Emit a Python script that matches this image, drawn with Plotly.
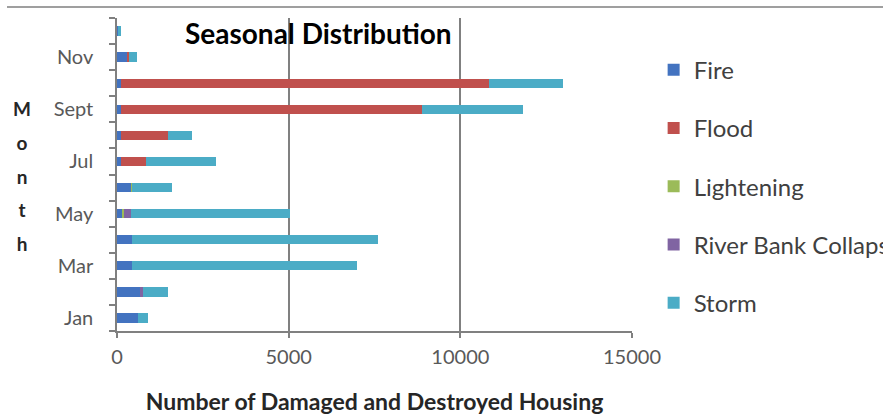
import plotly.graph_objects as go

months = ["Jan", "Feb", "Mar", "Apr", "May", "Jun", "Jul", "Aug", "Sept", "Oct", "Nov", "Dec"]
tick_text = ["Jan", "", "Mar", "", "May", "", "Jul", "", "Sept", "", "Nov", ""]

fire =       [620, 670, 450, 450, 135, 410, 130, 130, 130, 130, 280, 40]
flood =      [0,   0,   0,   0,   0,   0,   705, 1365, 8750, 10710, 70, 0]
lightening = [0,   0,   0,   0,   60,  30,  0,   0,   0,   0,   0,   0]
river_bank = [0,   100, 0,   0,   215, 0,   0,   0,   0,   0,   0,   0]
storm =      [275, 725, 6550, 7140, 4640, 1150, 2055, 700, 2940, 2160, 225, 90]

series = [
    ("Fire", fire, "#4373C0"),
    ("Flood", flood, "#C0504D"),
    ("Lightening", lightening, "#9BBB59"),
    ("River Bank Collapse", river_bank, "#8064A2"),
    ("Storm", storm, "#4BACC6"),
]

fig = go.Figure()
for i, (name, vals, col) in enumerate(series):
    fig.add_trace(go.Bar(
        y=months, x=vals, name=name, orientation="h",
        marker=dict(color=col, line=dict(width=0)),
        legendgroup=f"g{i}",
    ))

font_fam = "Lato, Open Sans, sans-serif"
month_title = "<br>".join(f"<span style='font-size:19px'>{c}</span>" for c in "Month")

fig.update_layout(
    barmode="stack",
    bargap=0.64,
    width=883, height=416,
    margin=dict(l=117, r=251, t=18, b=85, autoexpand=False),
    plot_bgcolor="white", paper_bgcolor="white",
    font=dict(family=font_fam, size=20, color="#595959"),
    showlegend=True,
    legend=dict(
        x=1.042, xanchor="left", y=0.905, yanchor="top",
        font=dict(size=24, color="#404040", family=font_fam),
        tracegroupgap=24, itemwidth=30,
        bgcolor="rgba(0,0,0,0)",
    ),
    xaxis=dict(
        range=[0, 15000], tickvals=[0, 5000, 10000, 15000], tickformat="d",
        showgrid=True, gridcolor="#808080", gridwidth=1.5,
        showline=True, linecolor="#808080", linewidth=1.5,
        ticks="outside", ticklen=5, tickcolor="#808080", tickwidth=1.5,
        zeroline=False, ticklabelstandoff=2,
        tickfont=dict(size=20, color="#595959"),
        title=dict(text="<b>Number of Damaged and Destroyed Housing</b>",
                   font=dict(size=23, color="#262626"), standoff=27),
    ),
    yaxis=dict(
        type="category", categoryorder="array", categoryarray=months,
        tickvals=months, ticktext=tick_text,
        tickson="boundaries",
        showgrid=False,
        showline=True, linecolor="#808080", linewidth=1.5,
        ticks="outside", ticklen=6, tickcolor="#808080", tickwidth=1.5,
        ticklabelstandoff=18,
        tickfont=dict(size=20, color="#595959"),
        range=[-0.5, 11.5],
    ),
    annotations=[
        dict(text="<b>Seasonal Distribution</b>", xref="paper", yref="paper",
             x=0.392, y=0.952, xanchor="center", yanchor="middle",
             showarrow=False, font=dict(size=28, color="#000000", family=font_fam)),
        dict(text=f"<b>{month_title}</b>", xref="paper", yref="paper",
             x=-0.185, y=0.495, xanchor="center", yanchor="middle",
             showarrow=False, align="center",
             font=dict(size=26, color="#262626", family=font_fam)),
    ],
    shapes=[
        dict(type="line", xref="paper", yref="paper",
             x0=-0.2136, x1=1.49, y0=1.035, y1=1.035,
             line=dict(color="#7F7F7F", width=1.5)),
    ],
)

fig.write_html("out.html", config={"displayModeBar": False},
               post_script="document.body.style.margin='0';document.body.style.overflow='hidden';")
